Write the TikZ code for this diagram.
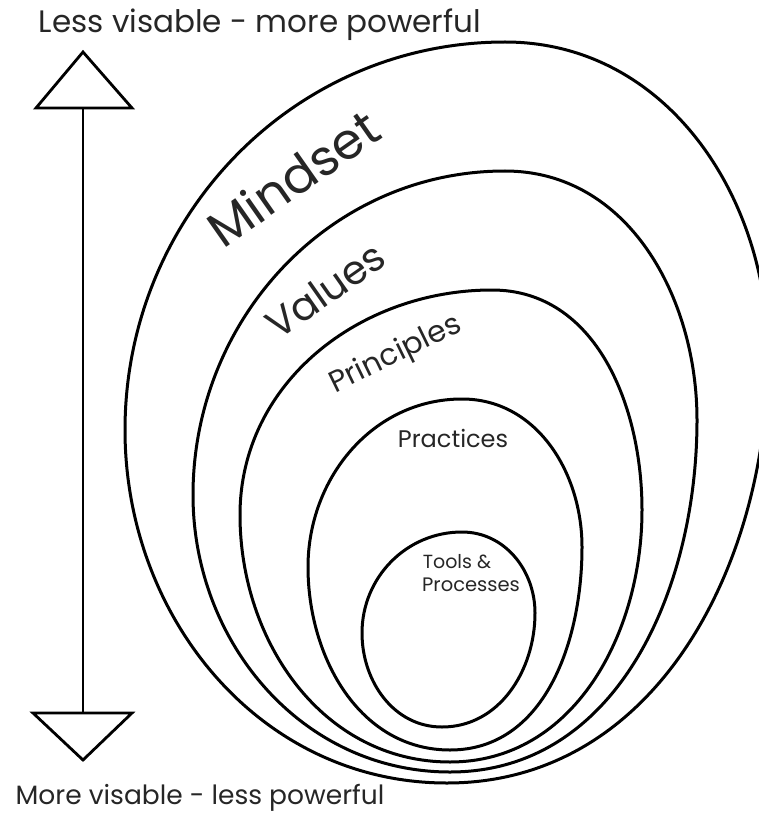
\documentclass[tikz,border=0pt]{standalone}
\usepackage{fontspec}
\setmainfont{Poppins}
\begin{document}
\begin{tikzpicture}[x=1pt,y=-1pt,
  ring/.style={line width=3pt, black},
  tri/.style={line width=2.8pt, line join=miter, black},
  lbl/.style={inner sep=0pt, text=black!85}]
\useasboundingbox (0,0) rectangle (759,813);
% egg-shaped rings: top, right, bottom, left points
\coordinate (mT) at (505,42);  \coordinate (mR) at (768,355); \coordinate (mB) at (447,783); \coordinate (mL) at (125,430);
\coordinate (vT) at (505,171); \coordinate (vR) at (697,420); \coordinate (vB) at (450,772); \coordinate (vL) at (193,495);
\coordinate (pT) at (492,290); \coordinate (pR) at (642,510); \coordinate (pB) at (450,762); \coordinate (pL) at (240,515);
\coordinate (cT) at (462,399); \coordinate (cR) at (582,547); \coordinate (cB) at (450,750); \coordinate (cL) at (308,567);
\coordinate (tT) at (462,532); \coordinate (tR) at (535,613); \coordinate (tB) at (442,727); \coordinate (tL) at (362,633);
\foreach \e in {m,v,p,c,t}{
  \draw[ring] (\e T) to[out=0,in=90] (\e R) to[out=-90,in=0] (\e B)
     to[out=180,in=-90] (\e L) to[out=90,in=180] (\e T);
}
% arrow
\coordinate (upA) at (83,52);
\coordinate (upL) at (36,108);
\coordinate (upR) at (132,108);
\coordinate (upM) at (83,108);
\coordinate (dnL) at (33,713);
\coordinate (dnR) at (132,713);
\coordinate (dnA) at (83,760);
\coordinate (dnM) at (83,713);
\draw[tri] (upA) -- (upL) -- (upR) -- cycle;
\draw[tri] (dnL) -- (dnR) -- (dnA) -- cycle;
\draw[line width=2.3pt] (upM) -- (dnM);
% labels
\node[lbl, font=\fontsize{31}{34}\selectfont] (top) at (260,25) {Less visable - more powerful};
\node[lbl, font=\fontsize{26.5}{30}\selectfont] (bot) at (200,798) {More visable - less powerful};
\node[lbl, font=\fontsize{50}{55}\selectfont, rotate=35] (mind) at (293,178) {Mindset};
\node[lbl, font=\fontsize{40}{45}\selectfont, rotate=35] (val) at (325,290) {Values};
\node[lbl, font=\fontsize{30}{33}\selectfont, rotate=26] (prin) at (396,355) {Principles};
\node[lbl, font=\fontsize{24}{27}\selectfont] (prac) at (453,438) {Practices};
\node[lbl, font=\fontsize{19}{22}\selectfont] (tools) at (457,562) {Tools \&};
\node[lbl, font=\fontsize{19.5}{22}\selectfont] (proc) at (471,585) {Processes};
\end{tikzpicture}
\end{document}
